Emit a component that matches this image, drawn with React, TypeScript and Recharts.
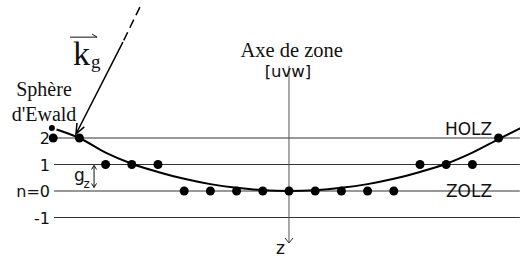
import { ComposedChart, Line, ReferenceDot, ReferenceLine, Scatter, XAxis, YAxis } from "recharts";

// Laue zones (n) and the reciprocal lattice spots lying on each of them
const layerLevels = [2, 1, 0, -1];
const layerNames = ["2", "1", "n=0", "-1"];
const spotsN2 = [-9, -8, 8];
const spotsN1 = [-7, -6, -5, 5, 6, 7];
const spotsN0 = [-4, -3, -2, -1, 0, 1, 2, 3, 4];

// Ewald sphere trace
const ewaldX = [-9.05, -8, -7, -6, -5, -4, -3, -2, -1, 0, 1, 2, 3, 4, 5, 6, 7, 8, 8.85];
const ewaldY = [2.38, 2.0, 1.45, 1.03, 0.72, 0.46, 0.26, 0.12, 0.03, 0, 0.03, 0.12, 0.26, 0.46, 0.72, 1.03, 1.45, 1.96, 2.38];

const spots = [
  ...spotsN2.map((x) => ({ x, y: 2 })),
  ...spotsN1.map((x) => ({ x, y: 1 })),
  ...spotsN0.map((x) => ({ x, y: 0 })),
];
const ewald = ewaldX.map((x, i) => ({ x, y: ewaldY[i] }));

const SERIF = "'Liberation Serif', 'Times New Roman', serif";
const SANS = "'DejaVu Sans', sans-serif";

const note = (key: string, x: number, y: number, draw: (cx: number, cy: number) => any) => (
  <ReferenceDot
    key={key}
    x={x}
    y={y}
    r={0}
    ifOverflow="visible"
    shape={(p: any) => draw(p.cx, p.cy)}
  />
);

export default function App() {
  return (
    <div style={{ position: "absolute", left: 0, top: 0, background: "#fff" }}>
      <ComposedChart width={520} height={262} margin={{ top: 0, right: 0, bottom: 0, left: 0 }}>
        <XAxis type="number" dataKey="x" domain={[-11.03, 8.817]} hide allowDataOverflow />
        <YAxis type="number" dataKey="y" domain={[-2.679, 7.208]} hide allowDataOverflow />

        {layerLevels.map((lv) => (
          <ReferenceLine
            key={"lv" + lv}
            segment={[{ x: -8.97, y: lv }, { x: 8.81, y: lv }]}
            stroke="#333"
            strokeWidth={1}
          />
        ))}

        {/* zone axis */}
        <ReferenceLine segment={[{ x: 0, y: 4.72 }, { x: 0, y: -1.96 }]} stroke="#555" strokeWidth={1} />
        {note("zarrow", 0, -1.96, (cx, cy) => (
          <path d={`M${cx - 4},${cy - 5} L${cx},${cy} L${cx + 4},${cy - 5}`} fill="none" stroke="#333" strokeWidth={1} />
        ))}

        {/* incident beam k_g */}
        <ReferenceLine
          segment={[{ x: -5.69, y: 6.94 }, { x: -6.34, y: 5.62 }]}
          stroke="#000"
          strokeWidth={1.5}
          strokeDasharray="9 5"
        />
        <ReferenceLine segment={[{ x: -6.34, y: 5.62 }, { x: -8.13, y: 2.15 }]} stroke="#000" strokeWidth={1.5} />
        {note("karrow", -8.13, 2.15, (cx, cy) => (
          <path d={`M${cx + 8.3},${cy - 7.2} L${cx},${cy} L${cx + 1},${cy - 11}`} fill="none" stroke="#000" strokeWidth={1.5} />
        ))}

        <Line
          data={ewald}
          dataKey="y"
          type="monotone"
          stroke="#000"
          strokeWidth={2}
          dot={false}
          isAnimationActive={false}
        />
        <Scatter
          data={spots}
          dataKey="y"
          fill="#000"
          isAnimationActive={false}
          shape={(p: any) => <circle cx={p.cx} cy={p.cy} r={4.5} fill="#000" />}
        />

        {layerLevels.map((lv, i) =>
          note("lab" + lv, -9.12, lv, (cx, cy) => (
            <text x={cx} y={cy + 6} textAnchor="end" fontFamily={SANS} fontSize={16} fill="#111">
              {layerNames[i]}
            </text>
          ))
        )}

        {note("holz", 5.95, 2.11, (cx, cy) => (
          <text x={cx} y={cy} fontFamily={SANS} fontSize={17} fill="#111">HOLZ</text>
        ))}
        {note("zolz", 5.99, -0.226, (cx, cy) => (
          <text x={cx} y={cy} fontFamily={SANS} fontSize={17} fill="#111">ZOLZ</text>
        ))}

        {note("axe", 0.1, 5.06, (cx, cy) => (
          <text x={cx} y={cy} textAnchor="middle" fontFamily={SERIF} fontSize={20.5} fill="#111">Axe de zone</text>
        ))}
        {note("uvw", -0.04, 4.32, (cx, cy) => (
          <text x={cx} y={cy} textAnchor="middle" fontFamily={SANS} fontSize={16.5} fill="#111">[uvw]</text>
        ))}
        {note("z", -0.15, -2.38, (cx, cy) => (
          <text x={cx} y={cy} textAnchor="end" fontFamily={SANS} fontSize={17} fill="#111">z</text>
        ))}

        {note("sphere", -9.35, 3.58, (cx, cy) => (
          <g fontFamily={SERIF} fontSize={20} fill="#111" textAnchor="middle">
            <text x={cx} y={cy}>Sphère</text>
            <text x={cx} y={cy + 25}>d'Ewald</text>
          </g>
        ))}

        {note("kg", -8.24, 4.75, (cx, cy) => (
          <g fill="#111" fontFamily={SERIF}>
            <text x={cx} y={cy} fontSize={34}>k</text>
            <text x={cx + 18} y={cy + 2.5} fontSize={19}>g</text>
            <path d={`M${cx - 3},${cy - 28} L${cx + 24},${cy - 28} M${cx + 19},${cy - 31} L${cx + 24},${cy - 28}`} fill="none" stroke="#111" strokeWidth={1} />
          </g>
        ))}

        {note("gz", -7.44, 0.55, (cx, cy) => (
          <g>
            <path
              d={`M${cx},${cy - 11} L${cx},${cy + 11} M${cx - 2.5},${cy - 7} L${cx},${cy - 11} L${cx + 2.5},${cy - 7} M${cx - 2.5},${cy + 7} L${cx},${cy + 11} L${cx + 2.5},${cy + 7}`}
              fill="none"
              stroke="#111"
              strokeWidth={1}
            />
            <text x={cx - 20} y={cy + 4.5} fontFamily={SANS} fontSize={17} fill="#111">g</text>
            <text x={cx - 10.5} y={cy + 11.5} fontFamily={SANS} fontSize={12} fill="#111">z</text>
          </g>
        ))}
      </ComposedChart>
    </div>
  );
}
